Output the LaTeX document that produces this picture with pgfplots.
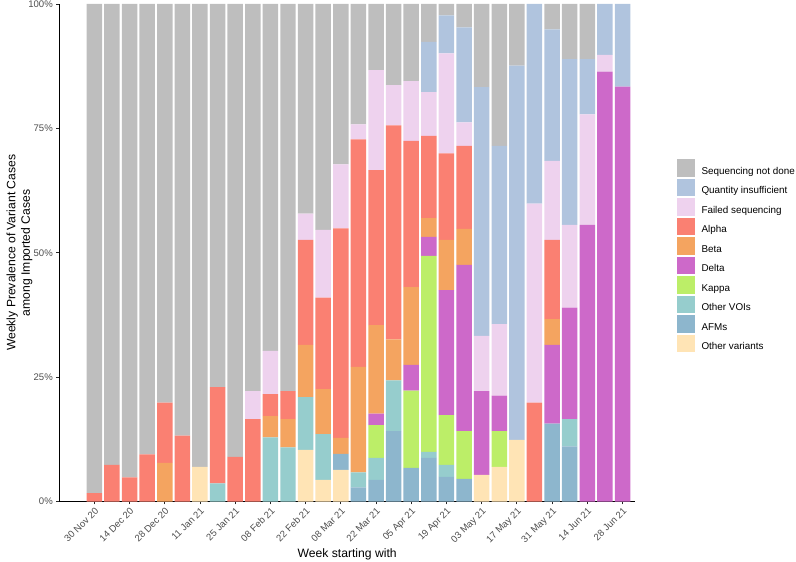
\documentclass[border=0pt]{standalone}
\usepackage{pgfplots}
\usepackage{pgfplotstable}
\pgfplotsset{compat=1.18}
\usepackage{fontspec}
\setmainfont{Liberation Sans}
\definecolor{cGrey}{RGB}{190,190,190}
\definecolor{cQI}{RGB}{176,196,222}
\definecolor{cFail}{RGB}{238,210,238}
\definecolor{cAlpha}{RGB}{250,128,114}
\definecolor{cBeta}{RGB}{244,164,96}
\definecolor{cDelta}{RGB}{205,105,201}
\definecolor{cKappa}{RGB}{188,238,104}
\definecolor{cVOI}{RGB}{150,205,205}
\definecolor{cAFM}{RGB}{141,182,205}
\definecolor{cOV}{RGB}{255,228,181}
\definecolor{tickgrey}{RGB}{77,77,77}

\pgfplotstableread{
idx OV AFM VOI Kappa Delta Beta Alpha Failed QI Grey
0 0 0 0 0 0 0 1.7 0 0 98.3
1 0 0 0 0 0 0 7.4 0 0 92.6
2 0 0 0 0 0 0 4.9 0 0 95.1
3 0 0 0 0 0 0 9.5 0 0 90.5
4 0 0 0 0 0 7.8 12.1 0 0 80.1
5 0 0 0 0 0 0 13.3 0 0 86.7
6 7.0 0 0 0 0 0 0 0 0 93.0
7 0 0 3.7 0 0 0 19.3 0 0 77.0
8 0 0 0 0 0 0 9.0 0 0 91.0
9 0 0 0 0 0 0 16.6 5.6 0 77.8
10 0 0 12.9 0 0 4.3 4.4 8.7 0 69.7
11 0 0 10.9 0 0 5.7 5.6 0 0 77.8
12 10.4 0 10.6 0 0 10.5 21.1 5.3 0 42.1
13 4.4 0 9.2 0 0 9.0 18.4 13.6 0 45.4
14 6.4 3.2 0 0 0 3.2 42.1 12.9 0 32.2
15 0 2.9 3.0 0 0 21.2 45.7 3.0 0 24.2
16 0 4.4 4.4 6.6 2.3 17.8 31.1 20.1 0 13.3
17 0 14.2 10.2 0 0 8.2 43.0 8.1 0 16.3
18 0 6.8 0 15.5 5.2 15.6 29.4 12.0 0 15.5
19 0 8.8 1.2 39.4 3.8 3.8 16.5 8.8 10.1 7.6
20 0 5.0 2.4 10.0 25.1 10.1 17.4 20.1 7.6 2.3
21 0 4.6 0 9.6 33.4 7.2 16.7 4.7 19.1 4.7
22 5.4 0 0 0 16.8 0 0 11.1 50.0 16.7
23 7.0 0 0 7.2 7.1 0 0 14.4 35.8 28.5
24 12.4 0 0 0 0 0 0 0 75.2 12.4
25 0 0 0 0 0 0 19.9 40.0 40.1 0
26 0 15.7 0 0 15.8 5.2 15.9 15.9 26.4 5.1
27 0 11.1 5.5 0 22.4 0 0 16.6 33.3 11.1
28 0 0 0 0 55.6 0 0 22.2 11.1 11.1
29 0 0 0 0 86.4 0 0 3.4 10.2 0
30 0 0 0 0 83.4 0 0 0 16.6 0
}\datatable

\pgfplotsset{
  keybox/.style={legend image code/.code={\fill[##1] (0bp,-5.45bp) rectangle (17.7bp,12.25bp); \path (24.5bp,0bp);}},
}

\begin{document}
\begin{tikzpicture}
\path[use as bounding box] (0,0) rectangle (796bp,562bp);
\begin{axis}[
  at={(59.3bp,60.3bp)}, anchor=south west,
  scale only axis, width=575.7bp, height=497.7bp,
  ybar stacked, bar width=0.88,
  xmin=-1.99, xmax=30.71, ymin=0, ymax=100,
  axis x line*=bottom, axis y line*=left,
  axis line style={line width=1.1bp, black},
  tick align=outside, major tick length=2.8bp,
  tick style={line width=0.8bp, black!85},
  xtick={0,2,...,30},
  xticklabels={30 Nov 20,14 Dec 20,28 Dec 20,11 Jan 21,25 Jan 21,08 Feb 21,22 Feb 21,08 Mar 21,22 Mar 21,05 Apr 21,19 Apr 21,03 May 21,17 May 21,31 May 21,14 Jun 21,28 Jun 21},
  ytick={0,25,50,75,100},
  yticklabels={0\%,25\%,50\%,75\%,100\%},
  x tick label style={rotate=45, anchor=north east, font=\fontsize{9.6}{10}\selectfont, text=tickgrey, inner sep=1.5bp},
  y tick label style={font=\fontsize{9.6}{10}\selectfont, text=tickgrey, inner sep=1.5bp, xshift=-2bp},
  xlabel={Week starting with},
  ylabel={Weekly Prevalence of Variant Cases\\among Imported Cases},
  every axis x label/.style={at={(axis description cs:0.5,-0.1131)}, anchor=base, font=\fontsize{12.2}{14}\selectfont},
  every axis y label/.style={at={(axis description cs:-0.0691,0.5)}, anchor=center, rotate=90, align=center, font=\fontsize{12.2}{14.5}\selectfont},
  keybox,
  reverse legend,
  legend cell align=left,
  legend style={at={(1.0730,0.6880)}, anchor=north west, draw=none, fill=none,
    inner sep=0pt, outer sep=0pt, row sep=1.8bp,
    font=\fontsize{9.9}{10}\selectfont,
    nodes={inner sep=0pt}},
]
\addplot[fill=cOV, draw=none] table[x=idx, y=OV] {\datatable};
\addplot[fill=cAFM, draw=none] table[x=idx, y=AFM] {\datatable};
\addplot[fill=cVOI, draw=none] table[x=idx, y=VOI] {\datatable};
\addplot[fill=cKappa, draw=none] table[x=idx, y=Kappa] {\datatable};
\addplot[fill=cDelta, draw=none] table[x=idx, y=Delta] {\datatable};
\addplot[fill=cBeta, draw=none] table[x=idx, y=Beta] {\datatable};
\addplot[fill=cAlpha, draw=none] table[x=idx, y=Alpha] {\datatable};
\addplot[fill=cFail, draw=none] table[x=idx, y=Failed] {\datatable};
\addplot[fill=cQI, draw=none] table[x=idx, y=QI] {\datatable};
\addplot[fill=cGrey, draw=none] table[x=idx, y=Grey] {\datatable};
\legend{Other variants,AFMs,Other VOIs,Kappa,Delta,Beta,Alpha,Failed sequencing,Quantity insufficient,Sequencing not done}
\end{axis}
\end{tikzpicture}
\end{document}
